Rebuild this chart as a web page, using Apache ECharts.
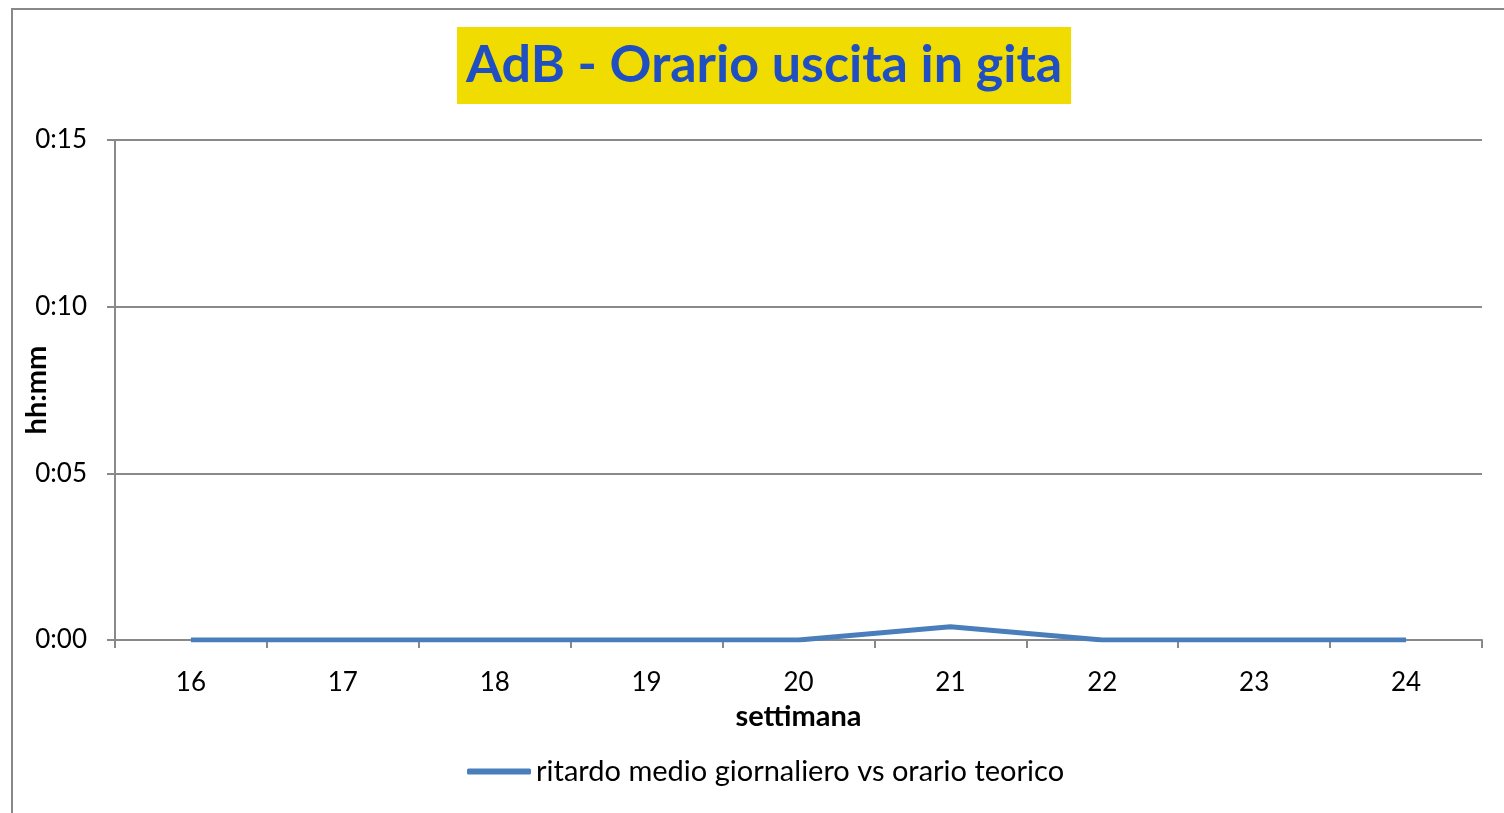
<!DOCTYPE html>
<html>
<head>
<meta charset="utf-8">
<script src="https://cdn.jsdelivr.net/npm/echarts@6/dist/echarts.min.js"></script>
<style>
  html, body { margin: 0; padding: 0; background: #fff; }
  #chart { width: 1504px; height: 813px; }
</style>
</head>
<body>
<div id="chart"></div>
<script>
// settimane (asse x)
const weeks = ['16', '17', '18', '19', '20', '21', '22', '23', '24']
// ritardo medio in minuti
const delayMinutes = [0, 0, 0, 0, 0, 0.4, 0, 0, 0]
const yTicks = [0, 5, 10, 15]
const seriesName = 'ritardo medio giornaliero vs orario teorico'

const fontFam = 'Lato, "Open Sans", sans-serif'
const gray = '#898989'

function fmtMin(v) {
  const h = Math.floor(v / 60)
  const m = Math.round(v % 60)
  return h + ':' + (m < 10 ? '0' + m : m)
}

const chart = echarts.init(document.getElementById('chart'))
chart.setOption({
  animation: false,
  backgroundColor: '#fff',
  graphic: [{
    type: 'rect',
    shape: { x: 12, y: 9, width: 1520, height: 840 },
    style: { fill: 'none', stroke: gray, lineWidth: 2 },
    silent: true
  }],
  title: {
    text: 'AdB - Orario uscita in gita',
    left: 457,
    top: 27,
    backgroundColor: '#f0dc00',
    padding: [9, 9, 9, 9],
    textStyle: {
      color: '#1f4fc0',
      fontFamily: fontFam,
      fontWeight: 'bold',
      fontSize: 52,
      lineHeight: 59
    }
  },
  grid: { left: 115, right: 22, top: 140, bottom: 173, outerBoundsMode: 'none' },
  legend: {
    bottom: 22,
    left: 462,
    itemWidth: 64,
    itemHeight: 6,
    itemGap: 4,
    icon: 'roundRect',
    textStyle: { fontFamily: fontFam, fontSize: 29, color: '#000' },
    data: [seriesName]
  },
  xAxis: {
    type: 'category',
    data: weeks,
    boundaryGap: true,
    name: 'settimana',
    nameLocation: 'middle',
    nameGap: 62,
    nameMoveOverlap: false,
    nameTextStyle: { fontFamily: fontFam, fontWeight: 'bold', fontSize: 29, color: '#000' },
    axisLine: { lineStyle: { color: gray, width: 2 } },
    axisTick: { show: true, length: 8, lineStyle: { color: gray, width: 2 } },
    axisLabel: { fontFamily: fontFam, fontSize: 26, color: '#000', margin: 30 }
  },
  yAxis: {
    type: 'value',
    min: yTicks[0],
    max: yTicks[yTicks.length - 1],
    interval: yTicks[1] - yTicks[0],
    name: 'hh:mm',
    nameLocation: 'middle',
    nameGap: 64,
    nameMoveOverlap: false,
    nameRotate: 90,
    nameTextStyle: { fontFamily: fontFam, fontWeight: 'bold', fontSize: 29, color: '#000' },
    axisLine: { show: true, lineStyle: { color: gray, width: 2 } },
    axisTick: { show: true, length: 8, lineStyle: { color: gray, width: 2 } },
    splitLine: { lineStyle: { color: gray, width: 2 } },
    axisLabel: { fontFamily: fontFam, fontSize: 26, color: '#000', margin: 28, formatter: fmtMin }
  },
  series: [{
    name: seriesName,
    type: 'line',
    data: delayMinutes,
    symbol: 'none',
    color: '#4a7ebb',
    lineStyle: { color: '#4a7ebb', width: 5, cap: 'butt' }
  }]
})
</script>
</body>
</html>
